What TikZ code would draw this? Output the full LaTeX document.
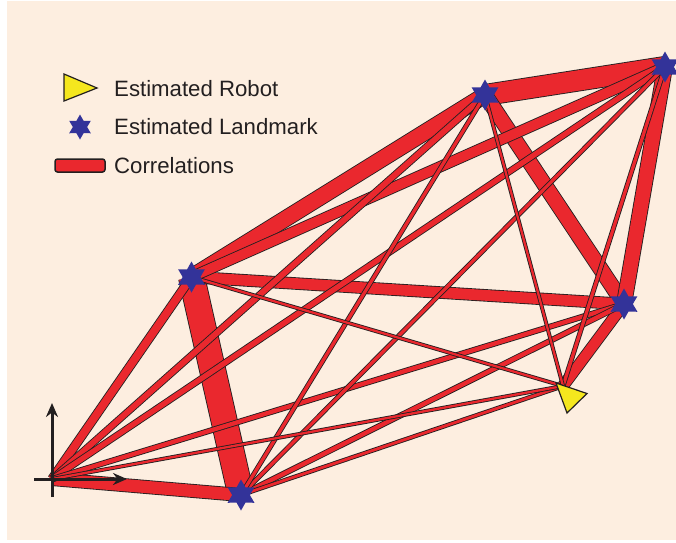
\documentclass[tikz,border=0pt]{standalone}
\usepackage{fontspec}
\setmainfont{Liberation Sans}
\usetikzlibrary{shapes.geometric,arrows.meta}
\definecolor{bgpeach}{HTML}{FDEEE0}
\definecolor{corrred}{HTML}{EA282E}
\definecolor{edgeblack}{HTML}{231F20}
\definecolor{starblue}{HTML}{333399}
\definecolor{robotyellow}{HTML}{F5E71E}
\tikzset{
  landmark/.style={star, star points=6, star point ratio=1.75, fill=starblue, draw=none, inner sep=0pt, minimum size=#1},
  landmark/.default=31pt,
  robotshape/.style={fill=robotyellow, draw=edgeblack, line width=1.2pt, line join=miter},
  axisarrow/.style={draw=edgeblack, line width=3pt, -{Stealth[length=14pt,width=12pt]}},
  legendtext/.style={anchor=base west, inner sep=0pt, text=edgeblack, font=\fontsize{22.2}{25}\selectfont},
}
\newcommand{\corrband}[3]{%
  \draw[edgeblack, line width=#3pt] (#1) -- (#2);
  \draw[corrred, line width=#3pt-1.7pt] (#1) -- (#2);
}
\begin{document}
\begin{tikzpicture}[x=1pt,y=-1pt]
\path[use as bounding box, fill=white] (0,0) rectangle (676,542);
\fill[bgpeach] (7,1) rectangle (676,540);
% positions
\coordinate (O) at (52,479);
\coordinate (L1) at (191.5,277);
\coordinate (L2) at (241,495);
\coordinate (L3) at (485,95);
\coordinate (L4) at (665,67);
\coordinate (L5) at (624,304);
\coordinate (R) at (563,386);
% correlations
\corrband{L1}{L2}{27}
\corrband{L3}{L4}{22}
\corrband{L1}{L3}{17}
\corrband{L3}{L5}{16}
\corrband{L4}{L5}{16}
\corrband{O}{L2}{14}
\corrband{L1}{L5}{12.5}
\corrband{L1}{L4}{11.5}
\corrband{L5}{R}{12}
\corrband{O}{L1}{9.5}
\corrband{O}{L3}{7.5}
\corrband{O}{L4}{7}
\corrband{O}{L5}{6}
\corrband{L2}{L5}{6}
\corrband{L2}{L4}{5}
\corrband{L2}{L3}{5}
\corrband{L4}{R}{5}
\corrband{L2}{R}{4.5}
\corrband{O}{R}{4}
\corrband{L1}{R}{4}
\corrband{L3}{R}{4}
% axes
\coordinate (yb) at (52,497);
\coordinate (yt) at (52,403);
\coordinate (xl) at (34,479);
\coordinate (xr) at (127,479);
\draw[axisarrow] (yb) -- (yt);
\draw[axisarrow] (xl) -- (xr);
% landmarks
\node[landmark] (S1) at (L1) {};
\node[landmark] (S2) at (L2) {};
\node[landmark] (S3) at (L3) {};
\node[landmark] (S4) at (L4) {};
\node[landmark] (S5) at (L5) {};
% robot
\draw[robotshape] (556,383) -- (587,393.5) -- (567,413) -- cycle;
% legend
\draw[robotshape] (64,74) -- (97,88) -- (64,101) -- cycle;
\node[landmark=25pt] (legstar) at (80,127) {};
\draw[fill=corrred, draw=edgeblack, line width=1.5pt, rounded corners=2.5pt] (55,159) rectangle (105,172);
\node[legendtext] (t1) at (114,96) {Estimated Robot};
\node[legendtext] (t2) at (114,134) {Estimated Landmark};
\node[legendtext] (t3) at (114,173) {Correlations};
\end{tikzpicture}
\end{document}
